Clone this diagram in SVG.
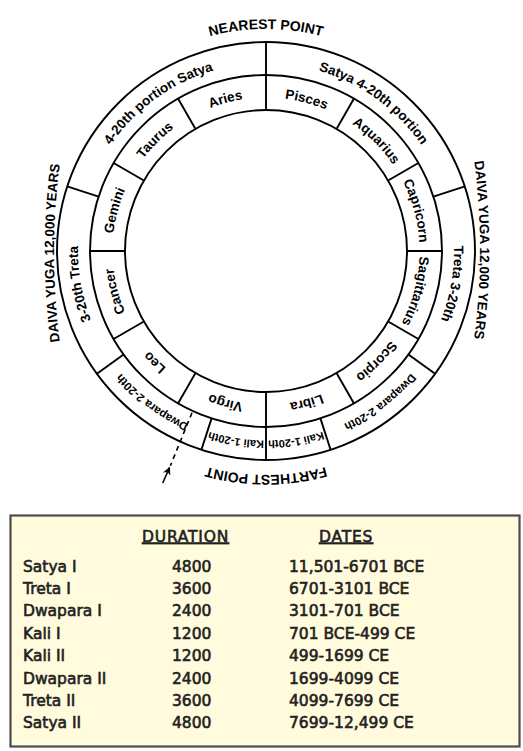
<svg xmlns="http://www.w3.org/2000/svg" xmlns:xlink="http://www.w3.org/1999/xlink" width="523" height="751" viewBox="0 0 523 751">
<style>
.ln{fill:none;stroke:#000;stroke-width:1.9}
.dv{stroke:#000;stroke-width:1.9}
.z{font-family:"Liberation Sans",Arial,sans-serif;font-weight:bold;font-size:13.5px;fill:#000}
.s{font-family:"Liberation Sans",Arial,sans-serif;font-weight:bold;font-size:11.5px;fill:#000}
.k{font-family:"Liberation Sans",Arial,sans-serif;font-weight:bold;font-size:11px;fill:#000}
.o{font-family:"Liberation Sans",Arial,sans-serif;font-weight:bold;font-size:14px;fill:#000}
.os{font-family:"Liberation Sans",Arial,sans-serif;font-weight:bold;font-size:13.5px;fill:#000}
.t{font-family:"DejaVu Sans",sans-serif;font-size:15.5px;fill:#222;stroke:#222;stroke-width:0.6}
.h{font-family:"DejaVu Sans",sans-serif;font-size:15.5px;letter-spacing:0.8px;fill:#222;stroke:#222;stroke-width:0.6;text-decoration:underline}
</style>
<defs>
<path id="p153" d="M266 404.5 A153.5 153.5 0 1 1 266 97.5 A153.5 153.5 0 1 1 266 404.5"/>
<path id="p188" d="M266 439 A188 188 0 1 1 266 63 A188 188 0 1 1 266 439"/>
<path id="p189" d="M266 440.5 A189.5 189.5 0 1 1 266 61.5 A189.5 189.5 0 1 1 266 440.5"/>
<path id="p222" d="M266 473 A222 222 0 1 1 266 29 A222 222 0 1 1 266 473"/>
<path id="p224" d="M266 475 A224 224 0 1 1 266 27 A224 224 0 1 1 266 475"/>
<path id="pL" d="M66.6 383 A675 675 0 0 1 66.6 123"/>
<path id="pR" d="M467.4 120 A675 675 0 0 1 467.4 380"/>
<marker id="ah" viewBox="0 0 10 10" refX="9" refY="5" markerWidth="8" markerHeight="8" markerUnits="userSpaceOnUse" orient="auto">
<path d="M0,0 L10,5 L0,10 L3,5 z" fill="#000"/>
</marker>
</defs>
<rect width="523" height="751" fill="#fff"/>
<g id="rings">
<circle class="ln" cx="266" cy="251" r="209"/>
<circle class="ln" cx="266" cy="251" r="176"/>
<circle class="ln" cx="266" cy="251" r="141"/>
</g>
<g id="connectors">
<line class="dv" x1="266" y1="110" x2="266" y2="42"/>
<line class="dv" x1="266" y1="392" x2="266" y2="460"/>
<line class="dv" x1="336.5" y1="128.9" x2="354" y2="98.6"/>
<line class="dv" x1="388.1" y1="180.5" x2="418.4" y2="163"/>
<line class="dv" x1="407" y1="251" x2="442" y2="251"/>
<line class="dv" x1="388.1" y1="321.5" x2="418.4" y2="339"/>
<line class="dv" x1="336.5" y1="373.1" x2="354" y2="403.4"/>
<line class="dv" x1="195.5" y1="373.1" x2="178" y2="403.4"/>
<line class="dv" x1="143.9" y1="321.5" x2="113.6" y2="339"/>
<line class="dv" x1="125" y1="251" x2="90" y2="251"/>
<line class="dv" x1="143.9" y1="180.5" x2="113.6" y2="163"/>
<line class="dv" x1="195.5" y1="128.9" x2="178" y2="98.6"/>
<line class="dv" x1="433.4" y1="196.6" x2="464.8" y2="186.4"/>
<line class="dv" x1="408.4" y1="354.5" x2="435.1" y2="373.8"/>
<line class="dv" x1="320.4" y1="418.4" x2="330.6" y2="449.8"/>
<line class="dv" x1="211.6" y1="418.4" x2="201.4" y2="449.8"/>
<line class="dv" x1="123.6" y1="354.5" x2="96.9" y2="373.8"/>
<line class="dv" x1="98.6" y1="196.6" x2="67.2" y2="186.4"/>
</g>
<g id="zodiac">
<text class="z" text-anchor="middle" transform="rotate(-15 266 251)"><textPath xlink:href="#p153" startOffset="50%">Aries</textPath></text>
<text class="z" text-anchor="middle" transform="rotate(-45 266 251)"><textPath xlink:href="#p153" startOffset="50%">Taurus</textPath></text>
<text class="z" text-anchor="middle" transform="rotate(-75 266 251)"><textPath xlink:href="#p153" startOffset="50%">Gemini</textPath></text>
<text class="z" text-anchor="middle" transform="rotate(-105 266 251)"><textPath xlink:href="#p153" startOffset="50%">Cancer</textPath></text>
<text class="z" text-anchor="middle" transform="rotate(-135 266 251)"><textPath xlink:href="#p153" startOffset="50%">Leo</textPath></text>
<text class="z" text-anchor="middle" transform="rotate(-165 266 251)"><textPath xlink:href="#p153" startOffset="50%">Virgo</textPath></text>
<text class="z" text-anchor="middle" transform="rotate(165 266 251)"><textPath xlink:href="#p153" startOffset="50%">Libra</textPath></text>
<text class="z" text-anchor="middle" transform="rotate(135 266 251)"><textPath xlink:href="#p153" startOffset="50%">Scorpio</textPath></text>
<text class="z" text-anchor="middle" transform="rotate(105 266 251)"><textPath xlink:href="#p153" startOffset="50%">Sagittarius</textPath></text>
<text class="z" text-anchor="middle" transform="rotate(75 266 251)"><textPath xlink:href="#p153" startOffset="50%">Capricorn</textPath></text>
<text class="z" text-anchor="middle" transform="rotate(45 266 251)"><textPath xlink:href="#p153" startOffset="50%">Aquarius</textPath></text>
<text class="z" text-anchor="middle" transform="rotate(15 266 251)"><textPath xlink:href="#p153" startOffset="50%">Pisces</textPath></text>
</g>
<g id="yuga-ring">
<text class="z" text-anchor="middle" transform="rotate(-36 266 251)"><textPath xlink:href="#p188" startOffset="50%">4-20th portion Satya</textPath></text>
<text class="z" text-anchor="middle" transform="rotate(36 266 251)"><textPath xlink:href="#p188" startOffset="50%">Satya 4-20th portion</textPath></text>
<text class="z" text-anchor="middle" transform="rotate(-100 266 251)"><textPath xlink:href="#p188" startOffset="50%">3-20th Treta</textPath></text>
<text class="z" text-anchor="middle" transform="rotate(100 266 251)"><textPath xlink:href="#p188" startOffset="50%">Treta 3-20th</textPath></text>
<text class="s" text-anchor="middle" transform="rotate(-143 266 251)"><textPath xlink:href="#p189" startOffset="50%">Dwapara 2-20th</textPath></text>
<text class="s" text-anchor="middle" transform="rotate(143 266 251)"><textPath xlink:href="#p189" startOffset="50%">Dwapara 2-20th</textPath></text>
<text class="k" text-anchor="middle" transform="rotate(-171 266 251)"><textPath xlink:href="#p189" startOffset="50%">Kali 1-20th</textPath></text>
<text class="k" text-anchor="middle" transform="rotate(171 266 251)"><textPath xlink:href="#p189" startOffset="50%">Kali 1-20th</textPath></text>
</g>
<g id="outer-labels">
<text class="o" text-anchor="middle"><textPath xlink:href="#p222" startOffset="50%">NEAREST POINT</textPath></text>
<text class="os" text-anchor="middle"><textPath xlink:href="#pL" startOffset="50%">DAIVA YUGA 12,000 YEARS</textPath></text>
<text class="os" text-anchor="middle"><textPath xlink:href="#pR" startOffset="50%">DAIVA YUGA 12,000 YEARS</textPath></text>
<text class="o" text-anchor="middle" transform="rotate(180 266 251)"><textPath xlink:href="#p224" startOffset="50%">FARTHEST POINT</textPath></text>
</g>
<g id="arrow">
<line x1="192" y1="412.7" x2="170.4" y2="465.7" stroke="#000" stroke-width="1.6" stroke-dasharray="5,4"/>
<line x1="162.7" y1="483" x2="169.6" y2="467.5" stroke="#000" stroke-width="1.6" marker-end="url(#ah)"/>
</g>
<g id="table">
<rect x="10.5" y="515.5" width="509" height="231" fill="#fffbdc" stroke="#4d4d4d" stroke-width="2.2"/>
<text class="h" x="142" y="541.5">DURATION</text>
<text class="h" x="319" y="541.5">DATES</text>
<g class="t">
<text x="23" y="571.5">Satya I</text><text x="172" y="571.5">4800</text><text x="289" y="571.5">11,501-6701 BCE</text>
<text x="23" y="593.9">Treta I</text><text x="172" y="593.9">3600</text><text x="289" y="593.9">6701-3101 BCE</text>
<text x="23" y="616.3">Dwapara I</text><text x="172" y="616.3">2400</text><text x="289" y="616.3">3101-701 BCE</text>
<text x="23" y="638.7">Kali I</text><text x="172" y="638.7">1200</text><text x="289" y="638.7">701 BCE-499 CE</text>
<text x="23" y="661.1">Kali II</text><text x="172" y="661.1">1200</text><text x="289" y="661.1">499-1699 CE</text>
<text x="23" y="683.5">Dwapara II</text><text x="172" y="683.5">2400</text><text x="289" y="683.5">1699-4099 CE</text>
<text x="23" y="705.9">Treta II</text><text x="172" y="705.9">3600</text><text x="289" y="705.9">4099-7699 CE</text>
<text x="23" y="728.3">Satya II</text><text x="172" y="728.3">4800</text><text x="289" y="728.3">7699-12,499 CE</text>
</g>
</g>
</svg>
